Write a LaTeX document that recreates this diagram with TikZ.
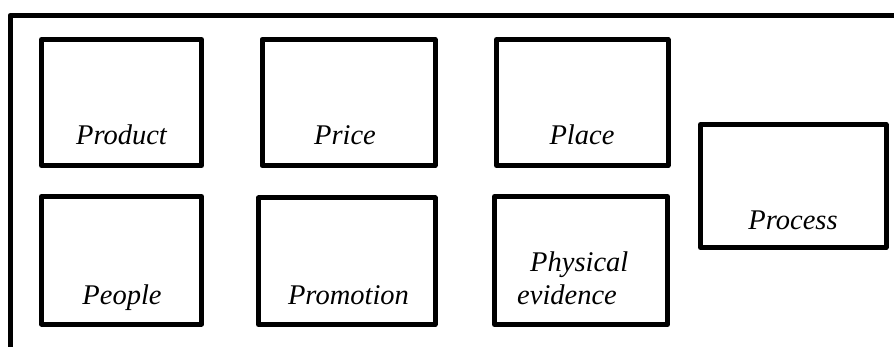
\documentclass[tikz,border=0pt]{standalone}
\usepackage{fontspec}
\setmainfont{Liberation Serif}
\begin{document}
\begin{tikzpicture}[x=1pt,y=-1pt,
  box/.style={draw=black,line width=5pt,line join=round,rectangle,inner sep=0pt},
  lbl/.style={anchor=base,inner sep=0pt,font=\fontsize{28.5}{34}\selectfont\itshape}]
\useasboundingbox (0,0) rectangle (894,347);
% outer frame
\coordinate (frameTR) at (900,15.5);
\coordinate (frameTL) at (10,15.5);
\coordinate (frameBL) at (10,352);
\draw[line width=5pt,line join=round] (frameTR) -- (frameTL) -- (frameBL);
% boxes
\node[box,minimum width=160pt,minimum height=126pt] (product) at (121.5,102.5) {};
\node[box,minimum width=173pt,minimum height=126pt] (price) at (348.5,102.5) {};
\node[box,minimum width=171.5pt,minimum height=126pt] (place) at (582.25,102.5) {};
\node[box,minimum width=160pt,minimum height=127.5pt] (people) at (121.5,260.25) {};
\node[box,minimum width=176.5pt,minimum height=126.5pt] (promotion) at (346.75,261.25) {};
\node[box,minimum width=173pt,minimum height=128pt] (physical) at (581,260.5) {};
\node[box,minimum width=185.5pt,minimum height=123pt] (process) at (793.25,186) {};
% labels
\node[lbl] (tproduct) at (121.5,145) {Product};
\node[lbl] (tprice) at (345,145) {Price};
\node[lbl] (tplace) at (582,145) {Place};
\node[lbl] (tpeople) at (122,305) {People};
\node[lbl] (tpromotion) at (348.5,305) {Promotion};
\node[lbl,anchor=base west] (tphys1) at (530,272) {Physical};
\node[lbl,anchor=base west] (tphys2) at (517,305) {evidence};
\node[lbl] (tprocess) at (793,230) {Process};
\end{tikzpicture}
\end{document}
